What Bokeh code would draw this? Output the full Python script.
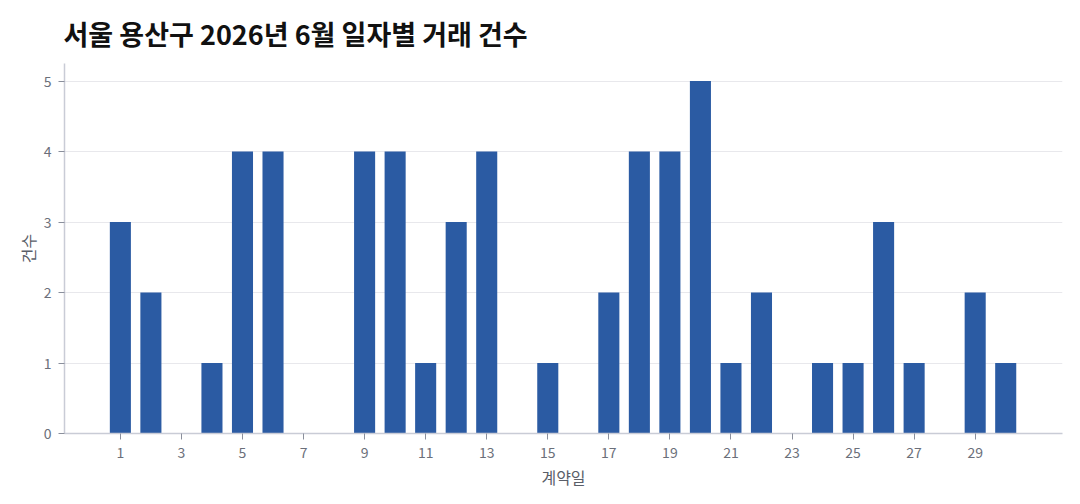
from bokeh.plotting import figure
from bokeh.models import ColumnDataSource, FixedTicker, Range1d
from bokeh.embed import file_html
from bokeh.resources import INLINE

days = list(range(1, 31))
counts = [3, 2, 0, 1, 4, 4, 0, 0, 4, 4, 1, 3, 4, 0, 1, 0, 2, 4, 4, 5, 1, 2, 0, 1, 1, 3, 1, 0, 2, 1]
x_ticks = list(range(1, 30, 2))
y_ticks = [0, 1, 2, 3, 4, 5]
title_text = "서울 용산구 2026년 6월 일자별 거래 건수"
x_label = "계약일"
y_label = "건수"

FONT = "Noto Sans CJK KR"

src = ColumnDataSource(dict(day=days, count=counts))

p = figure(width=1080, height=504, output_backend="svg", toolbar_location=None,
           x_range=Range1d(-0.83, 31.86), y_range=Range1d(0, 5.25),
           min_border_left=64, min_border_right=18, min_border_top=63, min_border_bottom=71)

p.vbar(x="day", top="count", width=0.69, source=src, color="#2b5ba3", line_color=None)

p.title.text = title_text
p.title.text_font = FONT
p.title.text_font_size = "27px"
p.title.text_font_style = "bold"
p.title.text_color = "#111111"
p.title.offset = -1
p.title.standoff = 22

p.outline_line_color = None
p.xgrid.grid_line_color = None
p.ygrid.grid_line_color = "#e8e8ec"
p.ygrid.grid_line_width = 1

p.xaxis.ticker = FixedTicker(ticks=x_ticks)
p.yaxis.ticker = FixedTicker(ticks=y_ticks)

for ax in (p.xaxis[0], p.yaxis[0]):
    ax.axis_line_color = "#c9ccd6"
    ax.axis_line_width = 1.5
    ax.major_tick_line_color = "#8a8f9c"
    ax.major_tick_out = 6
    ax.major_tick_in = 0
    ax.minor_tick_line_color = None
    ax.major_label_text_font = FONT
    ax.major_label_text_font_size = "14px"
    ax.major_label_text_color = "#6b6f7a"
    ax.axis_label_text_font = FONT
    ax.axis_label_text_font_size = "16px"
    ax.axis_label_text_font_style = "normal"
    ax.axis_label_text_color = "#5a5e68"

p.xaxis.axis_label = x_label
p.yaxis.axis_label = y_label
p.xaxis.major_label_standoff = 7
p.xaxis.axis_label_standoff = 4
p.yaxis.major_label_standoff = 7
p.yaxis.axis_label_standoff = 1

open("out.html", "w").write(file_html(p, INLINE))
